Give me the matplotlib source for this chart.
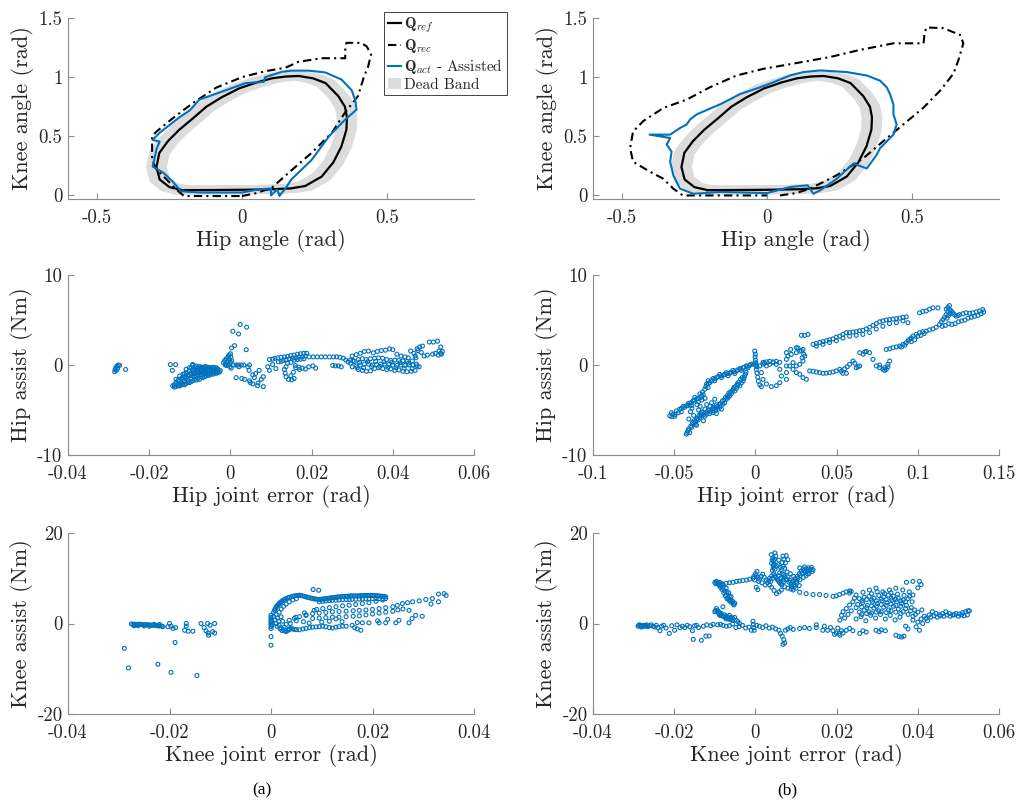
import numpy as np
import matplotlib
matplotlib.use("Agg")
import matplotlib.pyplot as plt
from matplotlib.patches import Patch
from matplotlib.lines import Line2D

plt.rcParams["font.family"] = "cmr10"
plt.rcParams["mathtext.fontset"] = "cm"
plt.rcParams["axes.unicode_minus"] = False
plt.rcParams["axes.formatter.use_mathtext"] = True

BLUE = "#0072BD"
BAND = "#dcdcdc"
AXC = "#8c8c8c"
TXT = "#262626"

# ---------------- joint-space loops (hip angle, knee angle) [rad] ----------------
ref_hip = [-0.205, -0.25, -0.284, -0.295, -0.285, -0.255, -0.216, -0.17, -0.123, -0.07, -0.01, 0.05,
           0.103, 0.15, 0.195, 0.245, 0.288, 0.332, 0.355, 0.362, 0.36, 0.343, 0.315, 0.275, 0.218,
           0.17, 0.10, 0.0, -0.10, -0.205]
ref_knee = [0.045, 0.07, 0.135, 0.24, 0.36, 0.46, 0.556, 0.65, 0.75, 0.83, 0.905, 0.955, 0.99, 1.005,
            1.01, 0.99, 0.95, 0.84, 0.75, 0.66, 0.556, 0.415, 0.28, 0.16, 0.08, 0.06, 0.052, 0.048,
            0.046, 0.045]
dead_band = 0.02

rec_hip_a = [0.0, 0.05, 0.103, 0.16, 0.24, 0.31, 0.355, 0.40, 0.42, 0.435, 0.445, 0.43, 0.41, 0.36,
             0.356, 0.356, 0.275, 0.195, 0.15, 0.08, 0.0, -0.09, -0.17, -0.24, -0.295, -0.31, -0.31,
             -0.31, -0.295, -0.26, -0.226, -0.2, -0.1, 0.0]
rec_knee_a = [-0.005, 0.02, 0.065, 0.19, 0.36, 0.53, 0.70, 0.84, 1.0, 1.09, 1.19, 1.26, 1.29, 1.29,
              1.23, 1.16, 1.16, 1.13, 1.08, 1.05, 1.0, 0.91, 0.78, 0.65, 0.54, 0.50, 0.39, 0.30,
              0.22, 0.135, 0.05, -0.005, -0.005, -0.005]
act_hip_a = [0.13, 0.15, 0.17, 0.24, 0.30, 0.355, 0.395, 0.39, 0.378, 0.343, 0.287, 0.23, 0.17, 0.137,
             0.08, 0.075, 0.013, -0.055, -0.147, -0.18, -0.216, -0.284, -0.308, -0.284, -0.295,
             -0.308, -0.27, -0.24, -0.21, -0.147, 0.0, 0.055, 0.10, 0.10, 0.12, 0.13]
act_knee_a = [0.0, 0.06, 0.135, 0.30, 0.50, 0.64, 0.725, 0.81, 0.89, 0.98, 1.04, 1.055, 1.055, 1.045,
              1.0, 0.96, 0.95, 0.89, 0.81, 0.72, 0.66, 0.53, 0.47, 0.455, 0.39, 0.245, 0.19, 0.12,
              0.035, 0.025, 0.025, 0.05, 0.06, 0.0, 0.05, 0.0]

rec_hip_b = [0.045, 0.10, 0.148, 0.24, 0.332, 0.40, 0.47, 0.54, 0.597, 0.643, 0.66, 0.677, 0.666,
             0.608, 0.55, 0.543, 0.54, 0.436, 0.32, 0.217, 0.09, -0.013, -0.105, -0.197, -0.277,
             -0.357, -0.426, -0.462, -0.472, -0.462, -0.403, -0.358, -0.323, -0.29, -0.15, 0.0]
rec_knee_b = [0.0, 0.02, 0.057, 0.17, 0.314, 0.457, 0.6, 0.743, 0.886, 1.03, 1.143, 1.286, 1.357,
              1.414, 1.42, 1.37, 1.286, 1.286, 1.23, 1.17, 1.114, 1.07, 1.014, 0.914, 0.81, 0.74,
              0.63, 0.54, 0.40, 0.285, 0.2, 0.142, 0.057, 0.0, 0.0, 0.0]
act_hip_b = [0.0, 0.079, 0.14, 0.16, 0.183, 0.24, 0.298, 0.344, 0.378, 0.39, 0.413, 0.436, 0.447,
             0.436, 0.436, 0.424, 0.413, 0.39, 0.344, 0.275, 0.183, 0.125, 0.079, 0.022, -0.024,
             -0.093, -0.162, -0.242, -0.265, -0.277, -0.30, -0.334, -0.405, -0.334, -0.346, -0.329,
             -0.334, -0.323, -0.30, -0.254, -0.162, 0.0]
act_knee_b = [0.02, 0.071, 0.086, 0.014, 0.043, 0.14, 0.27, 0.228, 0.343, 0.40, 0.457, 0.514, 0.6,
              0.686, 0.77, 0.857, 0.914, 0.97, 1.014, 1.043, 1.057, 1.043, 1.014, 0.957, 0.914, 0.857,
              0.77, 0.686, 0.643, 0.6, 0.57, 0.514, 0.514, 0.486, 0.43, 0.37, 0.286, 0.17, 0.057,
              0.014, 0.03, 0.02]

# ---------------- hip joint error [rad] vs hip assist [Nm] ----------------
hip_a = np.array([
    (-0.0285, -0.75), (-0.0284, -0.5), (-0.0282, -0.3), (-0.0279, -0.1), (-0.0276, 0.0),
    (-0.0273, -0.05), (-0.0281, -0.6), (-0.0278, -0.4), (-0.0258, -0.5),
    (-0.0148, 0.05), (-0.0135, 0.05), (-0.0143, -0.6),
    (-0.0142, -2.32), (-0.0134, -2.4), (-0.0125, -2.32), (-0.0117, -2.14), (-0.0109, -2.05),
    (-0.0101, -1.96), (-0.0093, -1.77), (-0.0084, -1.68), (-0.0076, -1.59), (-0.0068, -1.4),
    (-0.0060, -1.22), (-0.0052, -1.15), (-0.0043, -1.03), (-0.0035, -0.92), (-0.0027, -0.78),
    (-0.0134, -1.96), (-0.0125, -1.77), (-0.0117, -1.59), (-0.0109, -1.4), (-0.0101, -1.22),
    (-0.0093, -1.15), (-0.0084, -1.03), (-0.0076, -0.92), (-0.0068, -0.85), (-0.0060, -0.78),
    (-0.0052, -0.7), (-0.0043, -0.63), (-0.0035, -0.55),
    (-0.0117, -1.03), (-0.0109, -0.85), (-0.0101, -0.66), (-0.0093, -0.55), (-0.0084, -0.48),
    (-0.0076, -0.41), (-0.0068, -0.33), (-0.0060, -0.41),
    (-0.0109, -0.48), (-0.0101, -0.3), (-0.0093, -0.05), (-0.0088, -0.2), (-0.0084, -0.66),
    (-0.0093, 0.07), (-0.0084, -0.11), (-0.0076, -0.18), (-0.0068, -0.26), (-0.0060, -0.18),
    (-0.0052, -0.26), (-0.0043, -0.26), (-0.0035, -0.3),
    (-0.0125, -1.22), (-0.0117, -1.4), (-0.0134, -1.59), (-0.0130, -2.14), (-0.0121, -2.22),
    (-0.0138, -2.2), (-0.0113, -1.8), (-0.0105, -1.7), (-0.0097, -1.5), (-0.0089, -1.3),
    (-0.0080, -1.2), (-0.0072, -1.1), (-0.0064, -1.0), (-0.0056, -0.95), (-0.0048, -0.85),
    (-0.0040, -0.75), (-0.0031, -0.7), (-0.0113, -1.0), (-0.0105, -1.1), (-0.0097, -0.9),
    (-0.0089, -0.8), (-0.0080, -0.7), (-0.0072, -0.6), (-0.0064, -0.55), (-0.0056, -0.5),
    (-0.0048, -0.45), (-0.0040, -0.4),
    (-0.0138, -2.45), (-0.0129, -2.3), (-0.0121, -2.0), (-0.0113, -2.2), (-0.0105, -1.9),
    (-0.0097, -1.85), (-0.0089, -1.6), (-0.0080, -1.5), (-0.0072, -1.3), (-0.0064, -1.3),
    (-0.0056, -1.1), (-0.0048, -1.0), (-0.0040, -0.9), (-0.0031, -0.85), (-0.0129, -1.7),
    (-0.0121, -1.5), (-0.0113, -1.3), (-0.0105, -1.2), (-0.0097, -1.05), (-0.0089, -0.95),
    (-0.0080, -0.85), (-0.0072, -0.75), (-0.0064, -0.7), (-0.0056, -0.6), (-0.0048, -0.55),
    (-0.0097, -0.35), (-0.0089, -0.4), (-0.0080, -0.3), (-0.0072, -0.25), (-0.0064, -0.2),
    (-0.0056, -0.3), (-0.0048, -0.3), (-0.0039, -0.35), (-0.0031, -0.45), (-0.0025, -0.6),
    (-0.0017, 0.26), (-0.0014, 0.5), (-0.0012, 0.15), (-0.0010, 0.7), (-0.0008, 0.35),
    (-0.0006, 0.9), (-0.0005, 0.05), (-0.0003, 1.1), (-0.0002, 0.6), (0.0, 1.25), (0.0, 0.3),
    (-0.0001, -0.2), (0.0001, 0.9), (0.0002, -0.35), (-0.0009, -0.05), (-0.0013, 0.0), (0.0003, 0.5),
    (0.0008, 0.0), (0.0014, 0.0), (0.0020, 0.0), (0.0027, 0.0), (0.0033, 0.0),
    (0.0006, 3.75), (0.0020, 3.45), (0.0024, 4.5), (0.0040, 4.2), (0.0039, 1.7), (0.0003, 1.9),
    (0.0010, 2.15),
    (0.0014, -1.4), (0.0028, -1.5), (0.0035, -1.6), (0.0047, -1.75), (0.0049, -1.95), (0.0055, -2.1),
    (0.0067, -2.3), (0.0081, -2.4), (0.0068, -2.0), (0.0062, -0.95), (0.0071, -0.6), (0.0081, -1.3),
    (0.0055, -1.1), (0.0043, -0.2), (0.0047, 0.0), (0.0021, -0.2), (0.0046, -0.6), (0.0059, -1.4),
    (0.0076, -1.6), (0.0092, -0.2), (0.0096, -0.6), (0.0104, 0.05), (0.0112, -0.4),
    (0.0096, 0.6), (0.0104, 0.65), (0.0110, 0.75), (0.0117, 0.8), (0.0125, 0.85), (0.0133, 0.9),
    (0.0141, 0.95), (0.0149, 1.05), (0.0157, 1.1), (0.0165, 1.2), (0.0173, 1.25), (0.0181, 1.3),
    (0.0188, 1.3), (0.0145, 0.7), (0.0153, 0.75), (0.0161, 0.8), (0.0169, 0.85), (0.0177, 0.9),
    (0.0185, 1.0), (0.0137, 0.6), (0.0130, 0.5), (0.0157, 0.55), (0.0165, 0.6), (0.0173, 0.65),
    (0.0181, 0.7), (0.0141, 0.2), (0.0149, 0.3), (0.0137, -0.2), (0.0133, -0.5), (0.0135, -0.9),
    (0.0137, -1.3), (0.0143, -1.6), (0.0151, -1.65), (0.0157, -1.5), (0.0149, -1.2), (0.0155, -0.8),
    (0.0161, -0.3), (0.0169, -0.25), (0.0177, -0.35), (0.0185, -0.45), (0.0193, -0.2),
    (0.0203, -0.1), (0.0210, -0.35), (0.0160, -0.05), (0.0170, -0.5), (0.0118, 0.35), (0.0125, 0.4),
    (0.0194, 0.9), (0.0204, 0.9), (0.0214, 0.9), (0.0224, 0.9), (0.0234, 0.9), (0.0244, 0.9),
    (0.0254, 0.9), (0.0262, 0.9), (0.0270, 0.85), (0.0278, 0.75),
    (0.0252, -0.05), (0.0259, -0.1), (0.0266, -0.1), (0.0273, -0.2), (0.0284, 0.55), (0.0290, 0.35),
    (0.0296, 0.55),
    (0.0300, 1.0), (0.0310, 1.15), (0.0320, 1.3), (0.0330, 1.5), (0.0340, 1.55), (0.0352, 1.35),
    (0.0362, 1.5), (0.0372, 1.6), (0.0382, 1.65), (0.0392, 1.8), (0.0400, 1.7), (0.0410, 1.2),
    (0.0420, 1.0), (0.0430, 0.9), (0.0438, 0.8),
    (0.0296, 0.2), (0.0305, 0.4), (0.0315, 0.6), (0.0325, 0.7), (0.0335, 0.6), (0.0345, 0.7),
    (0.0355, 0.75), (0.0365, 0.8), (0.0375, 0.75), (0.0385, 0.6), (0.0395, 0.5), (0.0405, 0.55),
    (0.0415, 0.5), (0.0425, 0.45), (0.0435, 0.4),
    (0.0300, -0.2), (0.0310, -0.1), (0.0320, 0.0), (0.0330, 0.1), (0.0340, 0.1), (0.0350, 0.0),
    (0.0360, 0.05), (0.0370, 0.1), (0.0380, 0.1), (0.0390, 0.05), (0.0400, 0.0), (0.0410, -0.05),
    (0.0420, 0.0), (0.0430, -0.05), (0.0440, 0.0), (0.0450, 0.0), (0.0460, -0.1),
    (0.0315, -0.5), (0.0325, -0.6), (0.0335, -0.7), (0.0345, -0.65), (0.0355, -0.4), (0.0365, -0.3),
    (0.0375, -0.4), (0.0385, -0.5), (0.0395, -0.45), (0.0405, -0.6), (0.0415, -0.55),
    (0.0425, -0.7), (0.0435, -0.75), (0.0445, -0.7), (0.0455, -0.6), (0.0465, -0.2),
    (0.0312, -0.3), (0.0328, -0.3), (0.0348, -0.2), (0.0368, -0.15), (0.0388, -0.25),
    (0.0408, -0.3), (0.0428, -0.35), (0.0448, -0.4), (0.0302, 0.5), (0.0318, 0.3), (0.0338, 0.35),
    (0.0358, 0.4), (0.0378, 0.35), (0.0398, 0.3), (0.0418, 0.25), (0.0438, 0.2), (0.0458, 0.1),
    (0.0444, 1.55), (0.0452, 1.3), (0.0460, 1.8), (0.0466, 2.0), (0.0473, 2.1), (0.0490, 2.55),
    (0.0500, 2.55), (0.0510, 2.65), (0.0518, 2.0), (0.0514, 1.55), (0.0498, 1.2), (0.0477, 1.0),
    (0.0457, 0.8), (0.0448, 0.45), (0.0505, 1.3), (0.0512, 1.1), (0.0518, 1.3), (0.0522, 1.5),
    (0.0520, 1.2), (0.0485, 1.1), (0.0470, 1.4), (0.0462, 1.6), (0.0455, 1.0),
])

hip_b = np.array([
    (-0.0527, -5.65), (-0.0507, -5.46), (-0.0466, -4.91), (-0.0425, -4.54), (-0.0404, -4.24),
    (-0.0384, -3.99), (-0.0363, -3.80), (-0.0332, -3.43), (-0.0312, -2.69), (-0.0301, -2.14),
    (-0.0281, -1.96), (-0.0240, -1.40), (-0.0199, -1.14), (-0.0158, -0.92), (-0.0117, -0.66),
    (-0.0076, -0.30), (-0.0035, -0.04), (-0.0004, 0.15),
    (-0.0517, -5.3), (-0.0486, -5.1), (-0.0445, -4.6), (-0.0414, -4.3), (-0.0373, -3.6),
    (-0.0342, -3.2), (-0.0291, -1.75), (-0.0260, -1.5), (-0.0220, -1.05), (-0.0179, -0.85),
    (-0.0138, -0.6), (-0.0097, -0.4), (-0.0056, -0.1), (-0.0020, 0.1),
    (-0.0497, -5.7), (-0.0456, -5.2), (-0.0394, -4.5), (-0.0352, -4.1), (-0.0322, -3.3),
    (-0.0291, -2.5), (-0.0250, -1.75), (-0.0209, -1.4), (-0.0168, -1.2), (-0.0127, -0.95),
    (-0.0086, -0.6), (-0.0045, -0.3),
    (-0.0515, -5.75), (-0.0495, -5.5), (-0.0475, -5.3), (-0.0455, -4.8), (-0.0435, -4.7),
    (-0.0415, -4.5), (-0.0395, -4.2), (-0.0375, -3.9), (-0.0355, -3.7), (-0.0335, -3.6),
    (-0.0325, -3.0), (-0.0305, -2.4), (-0.0290, -2.05), (-0.0270, -1.75), (-0.0250, -1.55),
    (-0.0230, -1.3), (-0.0210, -1.2), (-0.0190, -1.05), (-0.0170, -0.95), (-0.0150, -0.8),
    (-0.0130, -0.75), (-0.0110, -0.55), (-0.0090, -0.45), (-0.0070, -0.25), (-0.0050, -0.15),
    (-0.0030, 0.05),
    (-0.0425, -7.68), (-0.0394, -6.94), (-0.0373, -6.38), (-0.0342, -5.83), (-0.0301, -5.46),
    (-0.0260, -5.28), (-0.0230, -4.91), (-0.0199, -4.35), (-0.0178, -3.80), (-0.0158, -3.43),
    (-0.0127, -2.88), (-0.0096, -2.32), (-0.0076, -1.77), (-0.0066, -1.22),
    (-0.0415, -7.3), (-0.0404, -7.5), (-0.0383, -6.6), (-0.0363, -6.7), (-0.0352, -6.1),
    (-0.0332, -5.6), (-0.0311, -5.7), (-0.0281, -5.4), (-0.0250, -5.1), (-0.0240, -5.4),
    (-0.0219, -4.7), (-0.0209, -4.9), (-0.0189, -4.2), (-0.0168, -3.6), (-0.0148, -3.2),
    (-0.0137, -2.7), (-0.0117, -2.6), (-0.0107, -2.2), (-0.0086, -2.0), (-0.0071, -1.5),
    (-0.0062, -1.0), (-0.0058, -0.8),
    (-0.0420, -7.5), (-0.0410, -7.1), (-0.0398, -6.8), (-0.0388, -6.4), (-0.0378, -6.2),
    (-0.0368, -6.3), (-0.0357, -5.9), (-0.0347, -5.6), (-0.0337, -5.4), (-0.0327, -5.3),
    (-0.0317, -5.5), (-0.0296, -5.2), (-0.0286, -5.0), (-0.0276, -5.2), (-0.0266, -4.9),
    (-0.0255, -4.8), (-0.0245, -4.9), (-0.0235, -4.6), (-0.0225, -4.4), (-0.0214, -4.3),
    (-0.0204, -4.0), (-0.0194, -3.9), (-0.0184, -3.6), (-0.0173, -3.4), (-0.0163, -3.1),
    (-0.0153, -3.0), (-0.0143, -2.9), (-0.0132, -2.5), (-0.0122, -2.4), (-0.0112, -2.1),
    (-0.0102, -1.9), (-0.0091, -1.6), (-0.0081, -1.4),
    (-0.040, -5.2), (-0.038, -5.6), (-0.036, -6.0), (-0.037, -6.6), (-0.035, -5.0), (-0.034, -4.6),
    (-0.033, -5.2), (-0.032, -6.2), (-0.031, -4.9), (-0.030, -4.4), (-0.029, -5.0), (-0.028, -4.6),
    (-0.027, -4.2), (-0.026, -4.7), (-0.025, -3.8), (-0.024, -4.4), (-0.039, -4.8), (-0.041, -6.0),
    (-0.036, -4.4), (-0.033, -3.9), (-0.031, -3.7),
    (-0.0004, 1.55), (0.0, 1.2), (-0.0002, 0.9), (0.0, 0.55), (0.0002, 0.25), (0.0002, -0.05),
    (0.0006, -0.5), (0.0010, -0.9), (0.0014, -1.35), (0.0018, -1.8), (0.0027, -2.2), (0.0037, -2.4),
    (0.0006, 0.0), (0.0010, -0.2),
    (0.0027, -0.1), (0.0037, -0.85), (0.0047, -1.6), (0.0068, -2.1), (0.0098, -2.4), (0.0129, -2.3),
    (0.0150, -1.96), (0.0160, -1.22), (0.0150, -0.48), (0.0129, 0.07), (0.0109, 0.26),
    (0.0088, 0.07), (0.0068, -0.1), (0.0057, 0.2), (0.0047, 0.1),
    (0.0047, 0.3), (0.0068, 0.35), (0.0088, 0.4), (0.0109, 0.35), (0.0129, 0.4), (0.0150, 0.3),
    (0.0191, 1.37), (0.0191, 0.63), (0.0191, -0.11), (0.0191, -0.85), (0.0191, -1.59),
    (0.0201, 1.0), (0.0221, 1.18), (0.0252, 1.37), (0.0273, 1.55), (0.0293, 1.73), (0.0304, 1.0),
    (0.0293, 0.44), (0.0273, 0.07), (0.0252, -0.11), (0.0232, 0.26), (0.0211, -0.11),
    (0.0232, -0.48), (0.0252, -0.85), (0.0273, -1.03), (0.0293, -1.4), (0.0314, -1.59),
    (0.0262, 1.9), (0.0283, 1.6), (0.0298, 1.2), (0.0288, 0.8), (0.0217, 1.73), (0.0252, 1.92),
    (0.0334, -0.66), (0.0375, -0.77), (0.0416, -0.92), (0.0457, -0.85), (0.0498, -0.66),
    (0.0519, -0.48), (0.0550, -0.41), (0.0580, 0.07), (0.0601, 0.44), (0.0621, -0.3),
    (0.0642, -0.11), (0.0539, -0.92), (0.0560, -0.92), (0.0355, -0.7), (0.0395, -0.85),
    (0.0436, -0.9), (0.0478, -0.78), (0.0529, -0.7), (0.0565, -0.2), (0.0612, 0.2), (0.0632, -0.2),
    (0.0642, 1.37), (0.0673, 1.45), (0.0703, 1.37), (0.0724, 0.63), (0.0744, -0.1), (0.0765, -0.3),
    (0.0796, -0.3), (0.0816, 0.07), (0.0827, 0.44), (0.0806, -0.48), (0.0785, -0.48),
    (0.0765, 0.0), (0.0663, 1.2), (0.0683, 1.5), (0.0816, -0.2), (0.0796, -0.6),
    (0.0283, 3.3), (0.0303, 3.3), (0.0324, 3.4), (0.0355, 2.3), (0.0375, 2.4), (0.0396, 2.5),
    (0.0416, 2.6), (0.0437, 2.7), (0.0457, 2.8), (0.0478, 2.9), (0.0498, 3.1), (0.0519, 3.2),
    (0.0539, 3.4), (0.0560, 3.6), (0.0580, 3.6), (0.0601, 3.65), (0.0621, 3.7), (0.0642, 3.8),
    (0.0662, 3.85), (0.0683, 4.0), (0.0703, 4.2), (0.0724, 4.4), (0.0744, 4.6), (0.0765, 4.8),
    (0.0785, 4.9), (0.0806, 5.0), (0.0826, 5.05), (0.0847, 5.1), (0.0868, 5.15), (0.0888, 5.2),
    (0.0909, 5.3), (0.0929, 5.35),
    (0.0375, 2.1), (0.0416, 2.3), (0.0457, 2.5), (0.0498, 2.7), (0.0539, 3.0), (0.0580, 3.2),
    (0.0621, 3.3), (0.0662, 3.4), (0.0703, 3.6), (0.0744, 4.0), (0.0785, 4.3), (0.0826, 4.6),
    (0.0868, 4.7), (0.0909, 4.9),
    (0.0806, 1.73), (0.0827, 1.8), (0.0847, 1.92), (0.0868, 2.0), (0.0888, 2.1), (0.0909, 2.3),
    (0.0929, 2.47), (0.0940, 2.7), (0.0950, 2.84), (0.0960, 3.0), (0.0970, 3.2), (0.0990, 3.4),
    (0.1011, 3.58), (0.1031, 3.7), (0.1052, 3.76), (0.1072, 3.9), (0.1093, 4.0), (0.1113, 4.2),
    (0.1134, 4.5), (0.1145, 4.8), (0.1155, 5.05), (0.1165, 5.3), (0.1175, 5.6), (0.1186, 5.9),
    (0.1196, 6.16), (0.1206, 6.0), (0.1216, 5.8), (0.1226, 5.6), (0.1237, 5.42), (0.1247, 5.5),
    (0.1257, 5.6), (0.1278, 5.7), (0.1298, 5.8), (0.1319, 5.75), (0.1339, 5.8), (0.1360, 5.9),
    (0.1380, 6.0), (0.1400, 6.16), (0.1405, 5.9), (0.1390, 5.7), (0.1370, 5.5), (0.1350, 5.4),
    (0.1330, 5.3), (0.1310, 5.2), (0.1290, 5.0), (0.1270, 4.9), (0.1250, 4.8), (0.1230, 4.6),
    (0.1210, 4.5), (0.1190, 4.6), (0.1170, 4.4), (0.1150, 4.3),
    (0.0960, 2.6), (0.0980, 2.8), (0.1000, 3.2), (0.1020, 3.3), (0.1040, 3.5), (0.0920, 2.2),
    (0.0900, 2.0), (0.1180, 5.2), (0.1190, 5.5), (0.1200, 5.7), (0.1185, 6.4), (0.1195, 6.6),
    (0.1175, 6.2),
    (0.1011, 5.8), (0.1031, 5.95), (0.1052, 6.0), (0.1072, 6.2), (0.1093, 6.35), (0.1124, 6.35),
    (0.0939, 4.7),
])

# ---------------- knee joint error [rad] vs knee assist [Nm] ----------------
knee_a = np.array([
    (-0.0275, -0.1), (-0.0272, -0.2), (-0.0269, -0.15), (-0.0266, -0.25), (-0.0263, -0.2),
    (-0.0260, -0.15), (-0.0257, -0.2), (-0.0254, -0.25), (-0.0251, -0.3), (-0.0248, -0.3),
    (-0.0245, -0.25), (-0.0242, -0.35), (-0.0239, -0.3), (-0.0236, -0.4), (-0.0233, -0.35),
    (-0.0230, -0.4), (-0.0227, -0.45), (-0.0224, -0.5), (-0.0221, -0.55), (-0.0218, -0.5),
    (-0.0215, -0.6), (-0.0213, -0.7), (-0.0270, -0.5), (-0.0262, -0.5), (-0.0250, -0.55),
    (-0.0240, -0.6), (-0.0230, -0.2), (-0.0220, -0.2),
    (-0.0200, 0.0), (-0.0197, -0.6), (-0.0193, -1.1), (-0.0188, -0.9), (-0.0203, -0.7),
    (-0.0167, 0.0), (-0.0167, -0.6), (-0.0170, -1.5), (-0.0163, -1.7), (-0.0154, -1.7),
    (-0.0138, 0.0), (-0.0132, -0.9), (-0.0125, 0.0), (-0.0120, -0.4), (-0.0128, -1.6),
    (-0.0124, -2.1), (-0.0123, -2.6), (-0.0115, -1.8), (-0.0111, 0.0), (-0.0111, -2.1),
    (-0.0289, -5.5), (-0.0281, -9.8), (-0.0223, -9.0), (-0.0197, -10.8), (-0.0146, -11.5),
    (-0.0189, -4.2),
    (0.0, 1.8), (0.0, 1.4), (0.0, 1.0), (0.0, 0.6), (0.0, 0.2), (0.0, -0.2), (0.0, -0.7),
    (0.0, -1.1), (0.0, -2.9), (0.0, -4.8), (0.0002, 0.4), (0.0002, -0.4),
    (0.0007, 2.9), (0.0010, 3.5), (0.0013, 4.0), (0.0017, 4.4), (0.0020, 4.8), (0.0025, 5.2),
    (0.0030, 5.5), (0.0036, 5.8), (0.0043, 6.0), (0.0050, 6.15), (0.0056, 6.25), (0.0062, 6.1),
    (0.0069, 5.9), (0.0075, 5.7), (0.0082, 5.5), (0.0088, 5.4), (0.0095, 5.3), (0.0102, 5.4),
    (0.0108, 5.5), (0.0115, 5.6), (0.0121, 5.7), (0.0128, 5.8), (0.0134, 5.9), (0.0141, 5.95),
    (0.0148, 6.0), (0.0154, 6.05), (0.0160, 6.1), (0.0167, 6.1), (0.0174, 6.1), (0.0180, 6.15),
    (0.0187, 6.2), (0.0193, 6.2), (0.0200, 6.2), (0.0207, 6.15), (0.0213, 6.1), (0.0220, 6.0),
    (0.0226, 5.9),
    (0.0005, 2.5), (0.0008, 3.2), (0.0011, 3.8), (0.0015, 4.2), (0.0018, 4.6), (0.0022, 5.0),
    (0.0027, 5.35), (0.0033, 5.65), (0.0040, 5.9), (0.0046, 6.1), (0.0053, 6.2), (0.0059, 6.2),
    (0.0066, 6.0), (0.0072, 5.8), (0.0079, 5.6), (0.0085, 5.45), (0.0092, 5.35), (0.0098, 5.35),
    (0.0105, 5.45), (0.0112, 5.55), (0.0118, 5.65), (0.0125, 5.75), (0.0131, 5.85), (0.0138, 5.9),
    (0.0144, 6.0), (0.0151, 6.0), (0.0157, 6.1), (0.0164, 6.1), (0.0171, 6.1), (0.0177, 6.15),
    (0.0184, 6.2), (0.0190, 6.2), (0.0197, 6.2), (0.0203, 6.2), (0.0210, 6.1), (0.0217, 6.05),
    (0.0223, 5.95),
    (0.0095, 4.8), (0.0108, 5.0), (0.0121, 5.1), (0.0134, 5.2), (0.0148, 5.3), (0.0160, 5.35),
    (0.0174, 5.4), (0.0187, 5.45), (0.0200, 5.5), (0.0213, 5.5), (0.0226, 5.5),
    (0.0102, 4.9), (0.0115, 5.05), (0.0128, 5.15), (0.0141, 5.25), (0.0154, 5.3), (0.0167, 5.35),
    (0.0180, 5.4), (0.0193, 5.45), (0.0207, 5.5), (0.0220, 5.5),
    (0.0220, 5.2), (0.0207, 4.9), (0.0193, 4.6), (0.0180, 4.4), (0.0167, 4.2), (0.0154, 4.05),
    (0.0141, 3.9), (0.0128, 3.7), (0.0115, 3.5), (0.0102, 3.3), (0.0090, 3.1),
    (0.0010, 2.0), (0.0013, 1.2), (0.0015, 0.5), (0.0016, -0.4), (0.0020, -1.0), (0.0025, -1.4),
    (0.0030, -1.8), (0.0033, -1.5), (0.0036, -1.2), (0.0040, -1.0), (0.0016, 2.5), (0.0020, 3.2),
    (0.0025, 3.8), (0.0030, 4.3), (0.0036, 4.8), (0.0043, 5.2), (0.0050, 5.5), (0.0023, 0.5),
    (0.0020, 1.5), (0.0026, -0.8), (0.0030, -0.2),
    (0.0005, 1.5), (0.0008, 0.8), (0.0010, 0.0), (0.0012, -0.6), (0.0018, -1.2), (0.0022, -1.6),
    (0.0028, -1.6), (0.0035, -1.4), (0.0042, -1.2), (0.0050, -1.35),
    (0.0046, -1.3), (0.0056, -1.4), (0.0063, -1.2), (0.0069, -1.1), (0.0076, -0.9), (0.0082, -0.8),
    (0.0089, -0.75), (0.0095, -0.7), (0.0102, -0.6), (0.0108, -0.7), (0.0115, -0.9),
    (0.0121, -1.0), (0.0128, -0.8), (0.0134, -0.7), (0.0141, -0.6), (0.0148, -0.6), (0.0160, -0.4),
    (0.0177, -1.5), (0.0170, -1.2), (0.0165, -0.9),
    (0.0036, 0.7), (0.0046, 1.1), (0.0056, 1.5), (0.0069, 1.9), (0.0082, 2.2), (0.0095, 2.3),
    (0.0108, 2.45), (0.0121, 2.6), (0.0134, 2.65), (0.0148, 2.7), (0.0162, 2.8), (0.0174, 2.9),
    (0.0187, 3.0), (0.0200, 3.1), (0.0213, 3.3), (0.0226, 3.5), (0.0240, 3.7), (0.0249, 4.0),
    (0.0259, 4.4), (0.0269, 4.6), (0.0279, 4.8), (0.0292, 5.0), (0.0305, 5.3), (0.0318, 5.5),
    (0.0330, 6.5), (0.0341, 6.6), (0.0345, 6.2), (0.0330, 4.8), (0.0315, 4.3), (0.0298, 1.6),
    (0.0285, 1.8), (0.0272, 2.9), (0.0260, 3.2),
    (0.0082, 1.1), (0.0095, 1.2), (0.0108, 1.3), (0.0121, 1.4), (0.0134, 1.4), (0.0148, 1.5),
    (0.0162, 1.6), (0.0174, 1.7), (0.0187, 1.9), (0.0200, 2.1), (0.0213, 2.3), (0.0226, 2.5),
    (0.0240, 2.7), (0.0250, 3.0),
    (0.0170, 0.2), (0.0180, 0.15), (0.0193, 0.15), (0.0213, 0.15), (0.0226, 0.15), (0.0246, 0.15),
    (0.0272, 0.15), (0.0252, 0.7), (0.0278, 1.1), (0.0230, 0.9), (0.0210, 0.6),
    (0.0083, 7.5), (0.0094, 7.35), (0.0015, 4.3), (0.0066, 2.35), (0.0069, 1.8), (0.0085, 2.9),
    (0.0049, 1.4), (0.0038, 0.0), (0.0050, 0.6), (0.0064, 0.4), (0.0075, 0.1), (0.0100, 0.3),
    (0.0115, 0.5), (0.0128, 1.0), (0.0140, 0.4),
])

knee_b = np.array([
    (-0.0289, -0.6), (-0.0285, -0.3), (-0.0281, -0.8), (-0.0277, -0.4), (-0.0273, -0.6),
    (-0.0269, -0.3), (-0.0265, -0.7), (-0.0261, -0.5), (-0.0257, -0.3), (-0.0252, -0.6),
    (-0.0248, -0.8), (-0.0244, -0.4), (-0.0240, -0.9), (-0.0235, -1.6), (-0.0231, -0.6),
    (-0.0226, -0.4), (-0.0220, -1.0), (-0.0212, -2.2), (-0.0206, -0.5), (-0.0199, -1.5),
    (-0.0193, -0.3), (-0.0186, -0.9), (-0.0180, -0.6), (-0.0174, -0.9), (-0.0168, -0.4),
    (-0.0162, -0.7), (-0.0155, -1.6), (-0.0153, -3.5), (-0.0150, -0.5), (-0.0145, -0.4),
    (-0.0140, -0.9), (-0.0133, -3.7), (-0.0128, -0.6), (-0.0122, -2.8), (-0.0120, -0.3),
    (-0.0114, -2.75), (-0.0110, -0.5), (-0.0104, -0.2),
    (-0.0287, -0.4), (-0.0283, -0.5), (-0.0279, -0.6), (-0.0275, -0.5), (-0.0271, -0.45),
    (-0.0267, -0.5),
    (-0.0100, 2.6), (-0.0096, 3.3), (-0.0092, 2.8), (-0.0088, 2.4), (-0.0084, 2.2), (-0.0080, 3.7),
    (-0.0076, 1.9), (-0.0072, 1.6), (-0.0068, 1.5), (-0.0064, 1.8), (-0.0060, 1.3), (-0.0056, 1.2),
    (-0.0051, 1.34), (-0.0047, 0.7), (-0.0043, 0.4), (-0.0039, 0.0), (-0.0088, 1.8),
    (-0.0072, 1.0), (-0.0056, 0.7), (-0.0093, -0.3), (-0.0086, -0.2), (-0.0080, -0.4),
    (-0.0072, -0.6), (-0.0064, -0.5), (-0.0056, -0.1), (-0.0048, -0.9), (-0.0040, -0.7),
    (-0.0032, -0.4), (-0.0024, -1.0), (-0.0016, -0.8), (-0.0010, -1.5), (-0.0006, 0.5),
    (-0.0005, -0.2), (-0.0004, -0.9), (-0.0003, -1.5), (0.0003, -0.4), (0.0010, -0.6),
    (0.0018, -0.9), (0.0026, -0.5), (0.0034, -1.0), (0.0042, -0.8), (0.0050, -1.2),
    (0.0058, -1.5), (0.0062, -2.2), (0.0066, -2.8), (0.0070, -3.6), (0.0068, -4.6), (0.0072, -4.3),
    (0.0074, -1.5), (0.0080, -1.2), (0.0086, -0.9),
    (-0.0098, 2.9), (-0.0094, 2.6), (-0.0090, 2.2), (-0.0086, 1.9), (-0.0082, 1.7), (-0.0078, 1.5),
    (-0.0074, 1.3), (-0.0070, 1.2), (-0.0066, 1.0), (-0.0062, 0.9), (-0.0058, 0.8),
    (-0.0100, 9.1), (-0.0096, 9.3), (-0.0092, 8.9), (-0.0085, 8.4), (-0.0080, 7.9), (-0.0076, 7.2),
    (-0.0072, 6.4), (-0.0068, 5.7), (-0.0060, 5.2), (-0.0056, 4.9), (-0.0051, 4.5), (-0.0053, 4.1),
    (-0.0060, 5.9), (-0.0066, 6.8), (-0.0072, 7.8), (-0.0080, 8.5), (-0.0088, 9.1), (-0.0084, 8.8),
    (-0.0064, 6.1), (-0.0070, 7.0),
    (-0.0098, 8.8), (-0.0094, 9.0), (-0.0090, 8.5), (-0.0086, 8.0), (-0.0082, 7.5), (-0.0078, 6.8),
    (-0.0074, 6.1), (-0.0070, 5.5), (-0.0066, 5.2), (-0.0062, 4.9), (-0.0058, 4.6), (-0.0054, 4.3),
    (-0.0088, 8.6), (-0.0080, 8.7), (-0.0072, 8.9), (-0.0064, 9.0), (-0.0055, 9.1), (-0.0047, 9.3),
    (-0.0039, 9.4), (-0.0031, 9.5), (-0.0022, 9.6), (-0.0014, 9.8), (-0.0006, 10.0),
    (-0.0004, 10.4), (0.0002, 10.6), (0.0006, 10.2), (0.0010, 9.8), (0.0014, 10.4), (0.0018, 10.9),
    (0.0022, 10.2), (0.0027, 9.6), (0.0000, 11.0), (0.0004, 11.5), (-0.0002, 9.6), (0.0008, 9.3),
    (0.0016, 9.0), (0.0024, 8.5), (0.0002, 8.0), (0.0006, 7.5),
    (0.0039, 15.2), (0.0043, 14.5), (0.0045, 13.8), (0.0048, 15.6), (0.0050, 14.9), (0.0046, 13.0),
    (0.0044, 12.3), (0.0042, 11.7), (0.0048, 12.0), (0.0052, 12.7), (0.0040, 13.3), (0.0068, 14.9),
    (0.0076, 15.0), (0.0080, 14.1), (0.0074, 13.4), (0.0068, 12.6), (0.0064, 11.9), (0.0060, 11.2),
    (0.0056, 13.0), (0.0058, 14.0), (0.0044, 12.8), (0.0047, 14.2), (0.0041, 14.0), (0.0066, 13.5),
    (0.0070, 14.2), (0.0072, 12.2), (0.0062, 12.4),
    (0.0030, 9.0), (0.0035, 10.0), (0.0040, 10.5), (0.0045, 11.0), (0.0050, 10.2), (0.0055, 9.6),
    (0.0060, 9.0), (0.0065, 8.5), (0.0070, 9.2), (0.0075, 9.8), (0.0080, 10.3), (0.0085, 9.5),
    (0.0090, 9.0), (0.0095, 8.6), (0.0100, 9.3), (0.0105, 10.0), (0.0110, 10.6), (0.0115, 11.2),
    (0.0120, 11.7), (0.0125, 12.1), (0.0130, 12.3), (0.0135, 12.0), (0.0140, 11.5), (0.0132, 11.0),
    (0.0125, 10.6), (0.0118, 10.2), (0.0110, 9.7), (0.0102, 8.9), (0.0096, 8.2), (0.0088, 7.6),
    (0.0080, 7.8), (0.0072, 8.1), (0.0064, 7.4), (0.0058, 7.0), (0.0052, 6.6), (0.0046, 7.3),
    (0.0040, 8.0), (0.0035, 8.5), (0.0062, 10.0), (0.0070, 10.8), (0.0078, 11.4), (0.0086, 11.0),
    (0.0094, 10.4), (0.0109, 12.3), (0.0121, 12.5), (0.0138, 12.4), (0.0142, 11.9), (0.0128, 11.6),
    (0.0108, 8.4), (0.0100, 7.8), (0.0090, 8.1),
    (0.0033, 9.5), (0.0038, 9.3), (0.0043, 10.0), (0.0048, 10.6), (0.0053, 9.9), (0.0058, 9.3),
    (0.0063, 8.8), (0.0068, 9.6), (0.0073, 10.3), (0.0078, 9.7), (0.0083, 9.1), (0.0088, 8.6),
    (0.0093, 9.4), (0.0098, 9.9), (0.0103, 10.4), (0.0108, 11.0), (0.0113, 11.6), (0.0118, 12.0),
    (0.0123, 11.4), (0.0128, 11.0), (0.0133, 11.7), (0.0058, 10.5), (0.0066, 11.0),
    (0.0093, 7.4), (0.0109, 6.9), (0.0125, 6.6), (0.0142, 6.4), (0.0158, 6.4), (0.0174, 6.2),
    (0.0191, 6.0), (0.0199, 6.1), (0.0207, 6.4), (0.0216, 6.7), (0.0224, 7.0), (0.0232, 7.2),
    (0.0236, 7.1),
    (0.0093, -1.3), (0.0109, -1.1), (0.0121, -0.9), (0.0133, -1.1), (0.0150, -0.9), (0.0166, -1.5),
    (0.0178, -1.5), (0.0191, -1.6), (0.0199, -2.1), (0.0207, -2.2), (0.0216, -2.1), (0.0224, -1.5),
    (0.0232, -1.1), (0.0240, -1.6), (0.0150, -0.3), (0.0170, -0.6), (0.0185, -0.9), (0.0203, -1.0),
    (0.0212, -1.6), (0.0195, -2.4), (0.0208, -2.6),
    (0.0208, 0.74), (0.0212, 1.8), (0.0216, 2.6), (0.0224, 3.3), (0.0232, 4.1), (0.0240, 4.8),
    (0.0244, 5.6), (0.0220, 1.2), (0.0228, 2.0), (0.0236, 2.8), (0.0248, 3.5),
    (0.0232, 6.7), (0.0248, 6.3), (0.0265, 6.9), (0.0281, 7.4), (0.0297, 7.8), (0.0314, 7.0),
    (0.0330, 7.4), (0.0346, 7.8), (0.0363, 7.4), (0.0379, 7.0), (0.0388, 6.3), (0.0372, 9.1),
    (0.0388, 9.3), (0.0404, 9.3), (0.0408, 8.6), (0.0400, 7.9),
    (0.0256, 5.5), (0.0268, 5.8), (0.0280, 6.0), (0.0292, 5.6), (0.0304, 6.2), (0.0316, 5.9),
    (0.0328, 6.3), (0.0340, 6.0), (0.0352, 5.6), (0.0364, 5.2), (0.0376, 5.5), (0.0386, 4.8),
    (0.0252, 4.2), (0.0264, 4.6), (0.0276, 4.0), (0.0288, 4.8), (0.0300, 4.4), (0.0312, 5.0),
    (0.0324, 4.6), (0.0336, 5.2), (0.0348, 4.8), (0.0360, 4.4), (0.0372, 4.0), (0.0384, 3.5),
    (0.0392, 3.0),
    (0.0256, 2.5), (0.0268, 3.0), (0.0280, 2.6), (0.0292, 3.4), (0.0304, 2.8), (0.0316, 3.6),
    (0.0328, 3.0), (0.0340, 3.8), (0.0352, 3.2), (0.0364, 2.6), (0.0376, 2.0), (0.0388, 1.6),
    (0.0248, 1.0), (0.0260, 1.5), (0.0272, 0.6), (0.0284, 1.8), (0.0296, 1.2), (0.0308, 2.0),
    (0.0320, 1.0), (0.0332, 1.8), (0.0344, 0.8), (0.0356, 1.4),
    (0.0262, 5.0), (0.0274, 5.3), (0.0286, 5.2), (0.0298, 5.0), (0.0310, 5.4), (0.0322, 5.3),
    (0.0334, 5.6), (0.0346, 5.3), (0.0358, 5.0), (0.0370, 4.8), (0.0262, 3.6), (0.0274, 3.5),
    (0.0286, 3.9), (0.0298, 3.8), (0.0310, 4.2), (0.0322, 4.0), (0.0334, 4.3), (0.0346, 4.0),
    (0.0358, 3.8), (0.0370, 3.3), (0.0382, 2.8), (0.0262, 2.0), (0.0274, 2.2), (0.0286, 2.3),
    (0.0298, 2.5), (0.0310, 2.6), (0.0322, 2.4), (0.0334, 2.8), (0.0346, 2.5), (0.0358, 2.2),
    (0.0286, 6.6), (0.0300, 7.0), (0.0318, 6.6), (0.0334, 6.8), (0.0350, 6.5), (0.0366, 6.2),
    (0.0380, 6.0),
    (0.0257, -2.2), (0.0265, -1.6), (0.0273, -1.9), (0.0297, -1.5), (0.0305, -1.8), (0.0346, -2.6),
    (0.0354, -2.9), (0.0360, -3.0), (0.0366, -2.8), (0.0370, -0.6), (0.0376, -1.2), (0.0310, -1.4),
    (0.0320, -1.6),
    (0.0388, 0.74), (0.0396, -0.74), (0.0404, -1.5), (0.0412, 0.0), (0.0420, 1.1), (0.0428, 1.9),
    (0.0436, 2.6), (0.0445, 2.2), (0.0453, 1.9), (0.0461, 2.2), (0.0469, 2.6), (0.0478, 2.2),
    (0.0486, 1.9), (0.0494, 2.2), (0.0502, 2.1), (0.0510, 2.4), (0.0518, 2.6), (0.0524, 2.8),
    (0.0527, 2.8), (0.0522, 1.9), (0.0514, 1.7), (0.0400, 0.3), (0.0408, 1.0), (0.0416, 1.6),
    (0.0424, 0.6), (0.0432, 1.4), (0.0440, 1.7), (0.0448, 1.4), (0.0456, 1.7), (0.0464, 1.6),
    (0.0472, 1.9), (0.0480, 1.6), (0.0490, 1.9), (0.0500, 1.6), (0.0508, 1.9), (0.0394, 2.0),
    (0.0400, 2.5), (0.0410, 3.0),
])

# ---------------- ticks ----------------
ang_xt, ang_xtl = [-0.5, 0, 0.5], ["-0.5", "0", "0.5"]
ang_yt, ang_ytl = [0, 0.5, 1, 1.5], ["0", "0.5", "1", "1.5"]
hip_yt, hip_ytl = [-10, 0, 10], ["-10", "0", "10"]
knee_yt, knee_ytl = [-20, 0, 20], ["-20", "0", "20"]
err_xt_a, err_xtl_a = [-0.04, -0.02, 0, 0.02, 0.04, 0.06], ["-0.04", "-0.02", "0", "0.02", "0.04", "0.06"]
hip_xt_b, hip_xtl_b = [-0.1, -0.05, 0, 0.05, 0.1, 0.15], ["-0.1", "-0.05", "0", "0.05", "0.1", "0.15"]
knee_xt_a, knee_xtl_a = [-0.04, -0.02, 0, 0.02, 0.04], ["-0.04", "-0.02", "0", "0.02", "0.04"]


def style_ax(ax, xlim, ylim, xt, xtl, yt, ytl, xlabel, ylabel):
    ax.set_xlim(xlim)
    ax.set_ylim(ylim)
    ax.set_xticks(xt)
    ax.set_xticklabels(xtl)
    ax.set_yticks(yt)
    ax.set_yticklabels(ytl)
    for s in ("top", "right"):
        ax.spines[s].set_visible(False)
    for s in ("left", "bottom"):
        ax.spines[s].set_color(AXC)
        ax.spines[s].set_linewidth(0.8)
    ax.tick_params(direction="in", length=4, width=0.8, color=AXC, labelcolor=TXT, labelsize=13.5)
    ax.tick_params(axis="x", pad=7)
    ax.tick_params(axis="y", pad=4)
    ax.set_xlabel(xlabel, fontsize=16, color=TXT, labelpad=2)
    ax.set_ylabel(ylabel, fontsize=16, color=TXT, labelpad=3)


def loop_panel(ax, rec_h, rec_k, act_h, act_k):
    rh, rk = np.array(ref_hip), np.array(ref_knee)
    for off in (-dead_band, 0.0, dead_band):
        ax.plot(rh + off, rk, color=BAND, lw=6.5, solid_capstyle="round",
                solid_joinstyle="round", zorder=1)
    ax.plot(ref_hip, ref_knee, color="black", lw=1.6, zorder=3)
    ax.plot(rec_h, rec_k, color="black", lw=1.5, ls=(0, (4, 2, 1, 2)), zorder=2)
    ax.plot(act_h, act_k, color=BLUE, lw=1.5, zorder=4)
    style_ax(ax, (-0.6, 0.8), (-0.03, 1.5), ang_xt, ang_xtl, ang_yt, ang_ytl,
             "Hip angle (rad)", "Knee angle (rad)")


def scatter_panel(ax, pts):
    ax.scatter(pts[:, 0], pts[:, 1], s=8, facecolors="none", edgecolors=BLUE, linewidths=0.8,
               zorder=3)


def main():
    fig = plt.figure(figsize=(10.21, 8.01), dpi=100)
    W, H = 1021, 801
    cols = [68, 593]
    rows = [(18, 199), (275, 455), (533, 714)]
    axs = [[fig.add_axes([c / W, 1 - b / H, 406 / W, (b - t) / H]) for c in cols] for (t, b) in rows]

    loop_panel(axs[0][0], rec_hip_a, rec_knee_a, act_hip_a, act_knee_a)
    loop_panel(axs[0][1], rec_hip_b, rec_knee_b, act_hip_b, act_knee_b)

    handles = [Line2D([], [], color="black", lw=1.6),
               Line2D([], [], color="black", lw=1.5, ls=(0, (4, 2, 1, 2))),
               Line2D([], [], color=BLUE, lw=1.5),
               Patch(facecolor=BAND, edgecolor="none")]
    labels = [r"$\mathbf{Q}_{ref}$", r"$\mathbf{Q}_{rec}$", r"$\mathbf{Q}_{act}$ - Assisted", "Dead Band"]
    leg = axs[0][0].legend(handles, labels, loc="upper left", bbox_to_anchor=(0.778, 1.033),
                           fontsize=11, frameon=True, fancybox=False, framealpha=1,
                           edgecolor=TXT, borderpad=0.25, labelspacing=0.12, handlelength=0.9,
                           handletextpad=0.15, borderaxespad=0)
    leg.get_frame().set_linewidth(0.6)
    for t in leg.get_texts():
        t.set_color(TXT)

    scatter_panel(axs[1][0], hip_a)
    style_ax(axs[1][0], (-0.04, 0.06), (-10, 10), err_xt_a, err_xtl_a, hip_yt, hip_ytl,
             "Hip joint error (rad)", "Hip assist (Nm)")
    scatter_panel(axs[1][1], hip_b)
    style_ax(axs[1][1], (-0.1, 0.15), (-10, 10), hip_xt_b, hip_xtl_b, hip_yt, hip_ytl,
             "Hip joint error (rad)", "Hip assist (Nm)")
    scatter_panel(axs[2][0], knee_a)
    style_ax(axs[2][0], (-0.04, 0.04), (-20, 20), knee_xt_a, knee_xtl_a, knee_yt, knee_ytl,
             "Knee joint error (rad)", "Knee assist (Nm)")
    scatter_panel(axs[2][1], knee_b)
    style_ax(axs[2][1], (-0.04, 0.06), (-20, 20), err_xt_a, err_xtl_a, knee_yt, knee_ytl,
             "Knee joint error (rad)", "Knee assist (Nm)")

    fig.text(262 / W, 1 - 790 / H, "(a)", ha="center", va="center", fontsize=12.5,
             family="Liberation Serif", color="black")
    fig.text(787 / W, 1 - 790 / H, "(b)", ha="center", va="center", fontsize=12.5,
             family="Liberation Serif", color="black")

    fig.savefig("out.png", dpi=100, facecolor="white")


if __name__ == "__main__":
    main()
